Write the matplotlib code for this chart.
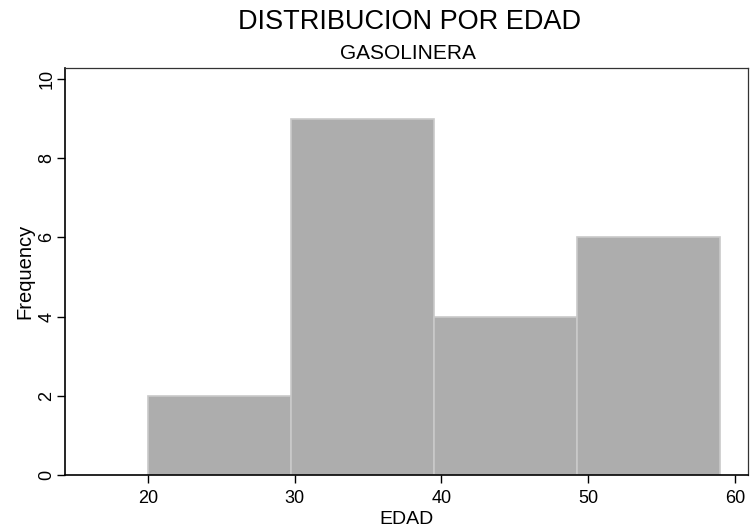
import matplotlib
matplotlib.use("Agg")
import matplotlib.pyplot as plt

plt.rcParams["font.family"] = ["Liberation Sans", "DejaVu Sans"]

# histogram bins (edad) and counts
bin_edges = [20, 29.75, 39.5, 49.25, 59]
counts = [2, 9, 4, 6]
x_ticks = [20, 30, 40, 50, 60]
y_ticks = [0, 2, 4, 6, 8, 10]

title = "DISTRIBUCION POR EDAD"
subtitle = "GASOLINERA"

fig = plt.figure(figsize=(7.52, 5.31), dpi=100)
ax = fig.add_axes([0.0864, 0.1055, 0.9083, 0.7665])

widths = [b - a for a, b in zip(bin_edges[:-1], bin_edges[1:])]
ax.bar(bin_edges[:-1], counts, width=widths, align="edge",
       color="#adadad", edgecolor="#c9c9c9", linewidth=1.2)

ax.set_xlim(14.35, 60.9)
ax.set_ylim(0, 10.28)
ax.set_xticks(x_ticks)
ax.set_yticks(y_ticks)
ax.tick_params(axis="both", direction="out", length=5.5, width=1, labelsize=13, colors="black")
ax.tick_params(axis="x", pad=5)
ax.tick_params(axis="y", pad=1.5)
for lbl in ax.get_yticklabels():
    lbl.set_rotation(90)
    lbl.set_va("center")

for side in ["left", "bottom"]:
    ax.spines[side].set_linewidth(1.2)
    ax.spines[side].set_color("black")
for side in ["top", "right"]:
    ax.spines[side].set_linewidth(0.9)
    ax.spines[side].set_color("#333333")

ax.set_xlabel("EDAD", fontsize=14, labelpad=3.5)
ax.set_ylabel("Frequency", fontsize=14.5, labelpad=3)

fig.text(0.544, 0.958, title, ha="center", va="center", fontsize=19.5)
fig.text(0.542, 0.900, subtitle, ha="center", va="center", fontsize=15)

fig.savefig("out.png", dpi=100)
